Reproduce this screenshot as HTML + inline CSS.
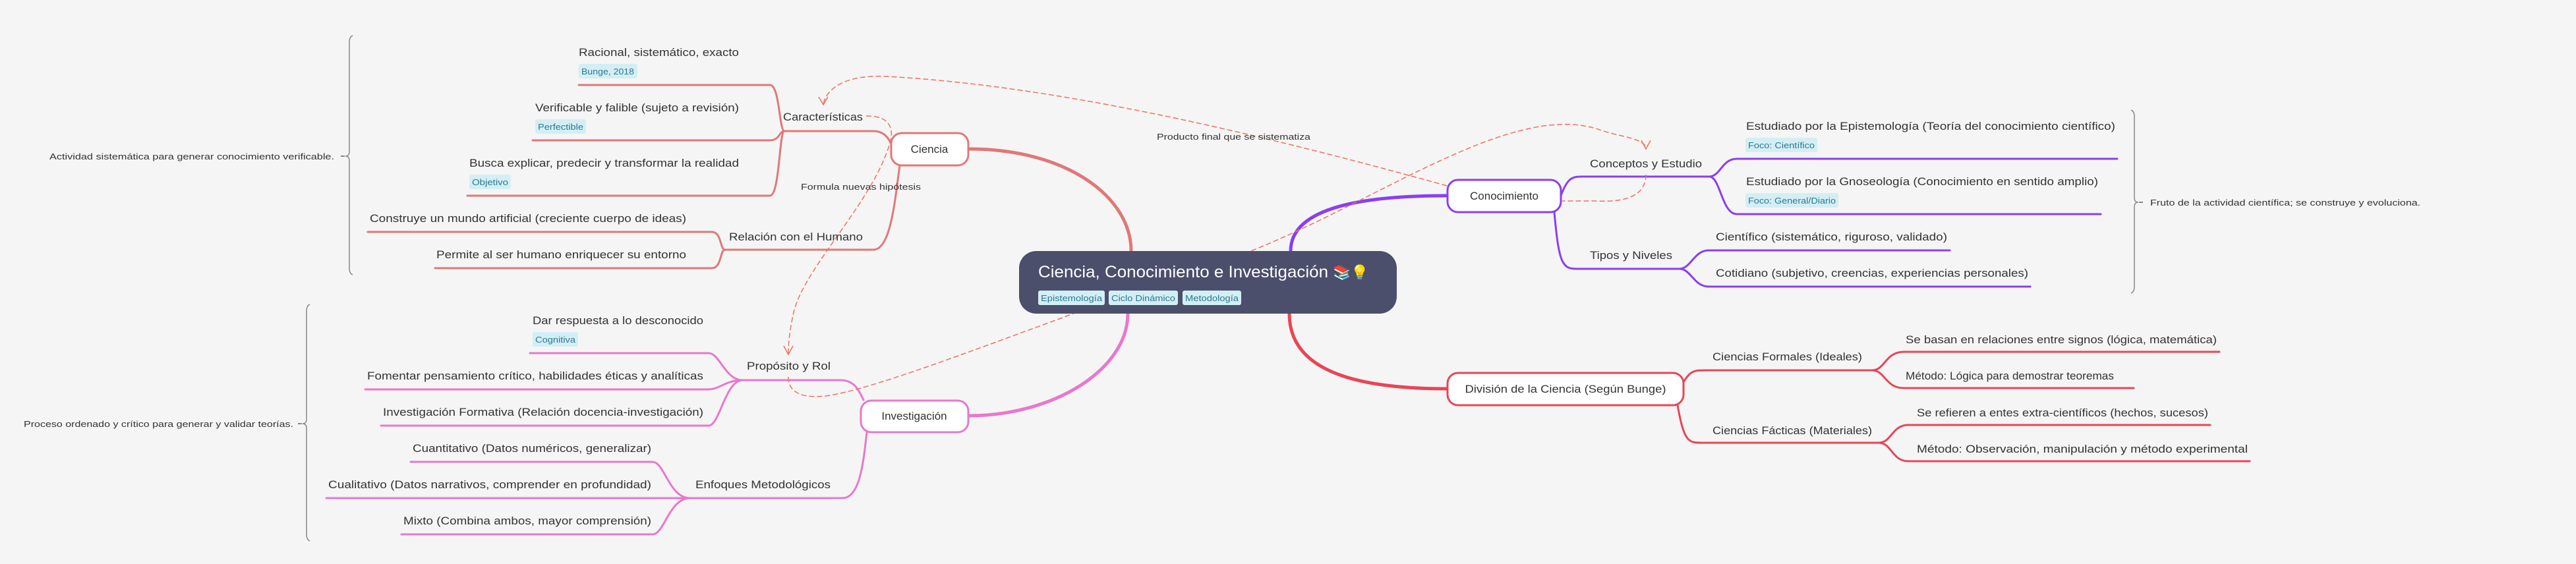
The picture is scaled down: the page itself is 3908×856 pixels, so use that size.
<!DOCTYPE html>
<html><head><meta charset="utf-8"><style>
html,body{margin:0;padding:0;background:#f5f5f5;}
svg{display:block;}
text{font-family:"Liberation Sans","DejaVu Sans",sans-serif;fill:#333;}
.t{font-size:17px;}
.s{font-size:13px;}
.tg{font-size:13px;fill:#2a7a90;}
.lf{fill:none;stroke-width:3;stroke-linecap:round;}
.dash{fill:none;stroke:#f07060;stroke-width:1.5;stroke-dasharray:8 4;}
</style></head><body>
<svg width="3908" height="856" viewBox="0 0 3908 856" xmlns="http://www.w3.org/2000/svg">
<rect width="3908" height="856" fill="#f5f5f5"/>

<!-- root connectors -->
<path d="M1469,226 C1620,226 1716,300 1716,381" fill="none" stroke="#e07878" stroke-width="5"/>
<path d="M1469,631 C1600,631 1711,560 1711,476" fill="none" stroke="#e878cc" stroke-width="5"/>
<path d="M1958,381 C1958,320 2050,297 2195,297" fill="none" stroke="#8a3ff0" stroke-width="5"/>
<path d="M1956,476 C1956,560 2050,590 2195,590" fill="none" stroke="#e84555" stroke-width="5"/>

<!-- Ciencia branch -->
<g stroke="#e07878" class="lf">
<path d="M1188,199 H1325 C1343,199 1350,212 1355,226"/>
<path d="M878,129 H1168 C1183,129 1182,199 1190,199"/>
<path d="M808,213 H1168 C1183,213 1182,199 1190,199"/>
<path d="M709,297 H1168 C1183,297 1182,199 1190,199"/>
<path d="M1098,379 H1325 C1352,379 1358,300 1365,251"/>
<path d="M558,352 H1080 C1095,352 1092,379 1100,379"/>
<path d="M660,407 H1080 C1095,407 1092,379 1100,379"/>
</g>
<!-- Investigación branch -->
<g stroke="#e878cc" class="lf">
<path d="M1125,577 H1275 C1295,577 1302,590 1310,607"/>
<path d="M804,536 H1075 C1092,536 1100,577 1127,577"/>
<path d="M554,591 H1075 C1092,591 1100,577 1127,577"/>
<path d="M578,646 H1075 C1092,646 1100,577 1127,577"/>
<path d="M1045,756 H1278 C1305,756 1310,700 1315,656"/>
<path d="M623,701 H990 C1008,701 1015,756 1047,756"/>
<path d="M495,756 H1047"/>
<path d="M609,811 H990 C1008,811 1015,756 1047,756"/>
</g>
<!-- Conocimiento branch -->
<g stroke="#8a3ff0" class="lf">
<path d="M2368,297 C2378,270 2385,268 2400,268 H2593"/>
<path d="M2593,268 C2610,268 2612,241 2635,241 H3212"/>
<path d="M2593,268 C2610,268 2612,325 2635,325 H3187"/>
<path d="M2358,322 C2365,400 2370,408 2392,408 H2548"/>
<path d="M2548,408 C2565,408 2570,380 2592,380 H2958"/>
<path d="M2548,408 C2565,408 2570,435 2592,435 H3080"/>
</g>
<!-- División branch -->
<g stroke="#e84555" class="lf">
<path d="M2554,580 C2565,562 2570,562 2590,562 H2840"/>
<path d="M2840,562 C2860,562 2860,534 2888,534 H3367"/>
<path d="M2840,562 C2860,562 2860,589 2888,589 H3237"/>
<path d="M2545,615 C2555,672 2562,672 2582,672 H2850"/>
<path d="M2850,672 C2870,672 2870,645 2895,645 H3353"/>
<path d="M2850,672 C2870,672 2870,700 2895,700 H3413"/>
</g>

<!-- dashed relations -->
<path class="dash" d="M2195,282 C1900,200 1600,130 1345,116 C1290,113 1255,130 1249,158"/>
<path d="M1242,147 L1249,159 L1256,147" fill="none" stroke="#f07060" stroke-width="1.5"/>
<path class="dash" d="M1314,176 C1340,176 1355,185 1352,210 C1330,300 1225,400 1205,470 C1198,500 1196,520 1196,537"/>
<path d="M1189,525 L1196,538 L1203,525" fill="none" stroke="#f07060" stroke-width="1.5"/>
<path class="dash" d="M1196,572 C1196,592 1210,602 1240,602 C1320,600 1600,480 1900,380 C2100,300 2300,150 2430,198 C2460,208 2495,210 2497,225"/>
<path d="M2490,213 L2497,226 L2504,213" fill="none" stroke="#f07060" stroke-width="1.5"/>
<path class="dash" d="M2497,265 C2497,295 2470,308 2420,305 L2370,305"/>

<!-- nodes -->
<rect x="1352" y="202" width="117" height="49" rx="16" fill="#fff" stroke="#e07878" stroke-width="3"/>
<text x="1410" y="232" class="t" text-anchor="middle">Ciencia</text>
<rect x="1306" y="608" width="163" height="48" rx="16" fill="#fff" stroke="#e878cc" stroke-width="3"/>
<text x="1387" y="637" class="t" text-anchor="middle">Investigación</text>
<rect x="2196" y="273" width="172" height="49" rx="16" fill="#fff" stroke="#8a3ff0" stroke-width="3"/>
<text x="2282" y="303" class="t" text-anchor="middle">Conocimiento</text>
<rect x="2196" y="566" width="358" height="49" rx="16" fill="#fff" stroke="#e84555" stroke-width="3"/>
<text x="2375" y="596" class="t" text-anchor="middle" textLength="305" lengthAdjust="spacingAndGlyphs">División de la Ciencia (Según Bunge)</text>

<!-- central -->
<rect x="1546" y="381" width="573" height="95" rx="26" fill="#4b4f6b"/>
<text x="1575" y="421" style="font-size:25px;fill:#fff" textLength="440" lengthAdjust="spacingAndGlyphs">Ciencia, Conocimiento e Investigación</text>
<text x="2022" y="421" style="font-size:22px;fill:#fff">📚💡</text>
<rect x="1575" y="441" width="101" height="22" rx="3" fill="#d4eef5"/>
<text x="1579" y="457" class="tg" textLength="93" lengthAdjust="spacingAndGlyphs">Epistemología</text>
<rect x="1682" y="441" width="105" height="22" rx="3" fill="#d4eef5"/>
<text x="1686" y="457" class="tg" textLength="97" lengthAdjust="spacingAndGlyphs">Ciclo Dinámico</text>
<rect x="1794" y="441" width="89" height="22" rx="3" fill="#d4eef5"/>
<text x="1798" y="457" class="tg" textLength="81" lengthAdjust="spacingAndGlyphs">Metodología</text>

<!-- Ciencia texts -->
<text x="1188" y="183" class="t" textLength="121" lengthAdjust="spacingAndGlyphs">Características</text>
<text x="878" y="85" class="t" textLength="243" lengthAdjust="spacingAndGlyphs">Racional, sistemático, exacto</text>
<rect x="878" y="97" width="89" height="22" rx="3" fill="#d4eef5"/>
<text x="882" y="113" class="tg" textLength="80" lengthAdjust="spacingAndGlyphs">Bunge, 2018</text>
<text x="812" y="169" class="t" textLength="309" lengthAdjust="spacingAndGlyphs">Verificable y falible (sujeto a revisión)</text>
<rect x="812" y="181" width="77" height="22" rx="3" fill="#d4eef5"/>
<text x="816" y="197" class="tg" textLength="69" lengthAdjust="spacingAndGlyphs">Perfectible</text>
<text x="712" y="253" class="t" textLength="409" lengthAdjust="spacingAndGlyphs">Busca explicar, predecir y transformar la realidad</text>
<rect x="712" y="265" width="63" height="22" rx="3" fill="#d4eef5"/>
<text x="716" y="281" class="tg" textLength="55" lengthAdjust="spacingAndGlyphs">Objetivo</text>
<text x="1215" y="288" class="s" textLength="182" lengthAdjust="spacingAndGlyphs">Formula nuevas hipótesis</text>
<text x="1106" y="365" class="t" textLength="203" lengthAdjust="spacingAndGlyphs">Relación con el Humano</text>
<text x="561" y="337" class="t" textLength="480" lengthAdjust="spacingAndGlyphs">Construye un mundo artificial (creciente cuerpo de ideas)</text>
<text x="662" y="392" class="t" textLength="379" lengthAdjust="spacingAndGlyphs">Permite al ser humano enriquecer su entorno</text>
<path d="M535,54 Q530,56 530,64 V230 Q530,237 524,237 Q530,237 530,244 V407 Q530,415 535,417" fill="none" stroke="#888" stroke-width="1.5"/>
<line x1="517" y1="237" x2="523" y2="237" stroke="#888" stroke-width="2"/>
<text x="75" y="242" class="s" textLength="432" lengthAdjust="spacingAndGlyphs">Actividad sistemática para generar conocimiento verificable.</text>

<!-- Investigación texts -->
<text x="1133" y="561" class="t" textLength="127" lengthAdjust="spacingAndGlyphs">Propósito y Rol</text>
<text x="808" y="492" class="t" textLength="259" lengthAdjust="spacingAndGlyphs">Dar respuesta a lo desconocido</text>
<rect x="808" y="504" width="69" height="22" rx="3" fill="#d4eef5"/>
<text x="812" y="520" class="tg" textLength="61" lengthAdjust="spacingAndGlyphs">Cognitiva</text>
<text x="557" y="576" class="t" textLength="510" lengthAdjust="spacingAndGlyphs">Fomentar pensamiento crítico, habilidades éticas y analíticas</text>
<text x="581" y="631" class="t" textLength="486" lengthAdjust="spacingAndGlyphs">Investigación Formativa (Relación docencia-investigación)</text>
<text x="1055" y="741" class="t" textLength="205" lengthAdjust="spacingAndGlyphs">Enfoques Metodológicos</text>
<text x="626" y="686" class="t" textLength="362" lengthAdjust="spacingAndGlyphs">Cuantitativo (Datos numéricos, generalizar)</text>
<text x="498" y="741" class="t" textLength="490" lengthAdjust="spacingAndGlyphs">Cualitativo (Datos narrativos, comprender en profundidad)</text>
<text x="612" y="796" class="t" textLength="376" lengthAdjust="spacingAndGlyphs">Mixto (Combina ambos, mayor comprensión)</text>
<path d="M470,462 Q465,464 465,472 V636 Q465,643 459,643 Q465,643 465,650 V811 Q465,819 470,821" fill="none" stroke="#888" stroke-width="1.5"/>
<line x1="452" y1="643" x2="458" y2="643" stroke="#888" stroke-width="2"/>
<text x="36" y="648" class="s" textLength="409" lengthAdjust="spacingAndGlyphs">Proceso ordenado y crítico para generar y validar teorías.</text>

<!-- Conocimiento texts -->
<text x="1755" y="212" class="s" textLength="233" lengthAdjust="spacingAndGlyphs">Producto final que se sistematiza</text>
<text x="2412" y="254" class="t" textLength="170" lengthAdjust="spacingAndGlyphs">Conceptos y Estudio</text>
<text x="2649" y="197" class="t" textLength="560" lengthAdjust="spacingAndGlyphs">Estudiado por la Epistemología (Teoría del conocimiento científico)</text>
<rect x="2648" y="209" width="109" height="22" rx="3" fill="#d4eef5"/>
<text x="2652" y="225" class="tg" textLength="101" lengthAdjust="spacingAndGlyphs">Foco: Científico</text>
<text x="2649" y="281" class="t" textLength="534" lengthAdjust="spacingAndGlyphs">Estudiado por la Gnoseología (Conocimiento en sentido amplio)</text>
<rect x="2648" y="293" width="141" height="22" rx="3" fill="#d4eef5"/>
<text x="2652" y="309" class="tg" textLength="133" lengthAdjust="spacingAndGlyphs">Foco: General/Diario</text>
<text x="2412" y="393" class="t" textLength="125" lengthAdjust="spacingAndGlyphs">Tipos y Niveles</text>
<text x="2603" y="365" class="t" textLength="351" lengthAdjust="spacingAndGlyphs">Científico (sistemático, riguroso, validado)</text>
<text x="2603" y="420" class="t" textLength="474" lengthAdjust="spacingAndGlyphs">Cotidiano (subjetivo, creencias, experiencias personales)</text>
<path d="M3233,167 Q3238,169 3238,177 V300 Q3238,307 3244,307 Q3238,307 3238,314 V435 Q3238,443 3233,445" fill="none" stroke="#888" stroke-width="1.5"/>
<line x1="3245" y1="307" x2="3251" y2="307" stroke="#888" stroke-width="2"/>
<text x="3262" y="312" class="s" textLength="410" lengthAdjust="spacingAndGlyphs">Fruto de la actividad científica; se construye y evoluciona.</text>

<!-- División texts -->
<text x="2598" y="547" class="t" textLength="227" lengthAdjust="spacingAndGlyphs">Ciencias Formales (Ideales)</text>
<text x="2891" y="521" class="t" textLength="472" lengthAdjust="spacingAndGlyphs">Se basan en relaciones entre signos (lógica, matemática)</text>
<text x="2891" y="576" class="t" textLength="316" lengthAdjust="spacingAndGlyphs">Método: Lógica para demostrar teoremas</text>
<text x="2598" y="659" class="t" textLength="242" lengthAdjust="spacingAndGlyphs">Ciencias Fácticas (Materiales)</text>
<text x="2908" y="632" class="t" textLength="442" lengthAdjust="spacingAndGlyphs">Se refieren a entes extra-científicos (hechos, sucesos)</text>
<text x="2908" y="687" class="t" textLength="502" lengthAdjust="spacingAndGlyphs">Método: Observación, manipulación y método experimental</text>
</svg>
</body></html>
